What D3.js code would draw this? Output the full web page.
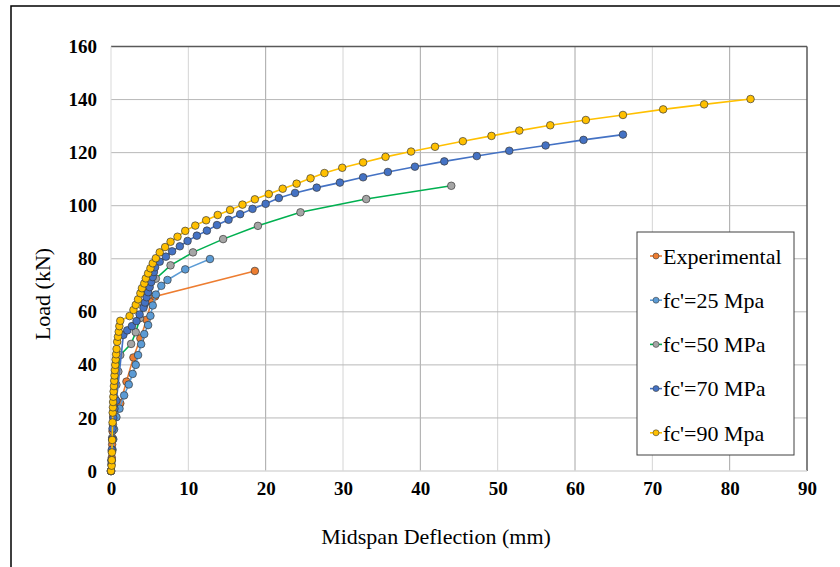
<!DOCTYPE html>
<html>
<head>
<meta charset="utf-8">
<script src="https://cdn.jsdelivr.net/npm/d3@7"></script>
<style>
  html, body { margin: 0; padding: 0; background: #fff; }
  svg { display: block; }
</style>
</head>
<body>
<div id="chart"></div>
<script>
// deflection (mm), load (kN) pairs
const experimental = [
  [0, 0], [0.1, 5], [0.15, 10], [0.2, 15], [0.3, 20.5], [1.2, 25.5], [2.0, 33.7],
  [2.9, 42.8], [3.8, 50], [4.6, 57], [5.2, 63.8], [5.7, 65.8], [18.6, 75.4]
];
const fc25 = [
  [0, 0], [0.1, 4], [0.2, 8], [0.3, 12], [0.4, 15.7], [0.7, 20.3], [1.1, 23.5],
  [1.7, 28.5], [2.3, 32.6], [2.8, 36.6], [3.2, 40], [3.5, 43.7], [3.9, 47.8],
  [4.3, 51.6], [4.8, 55], [5.1, 58.5], [5.4, 62.4], [5.8, 66.5], [6.5, 69.8],
  [7.3, 72], [9.6, 76], [12.8, 79.9]
];
const fc50 = [
  [0, 0], [0.05, 2.5], [0.1, 7.5], [0.15, 12.5], [0.25, 17.5], [0.35, 22.5],
  [0.5, 27.5], [0.7, 32.5], [0.95, 37.5], [1.2, 43.7], [2.6, 47.9], [3.2, 52.3],
  [3.75, 57.6], [4.3, 62.6], [4.8, 67.3], [5.8, 72.5], [7.7, 77.5], [10.6, 82.4],
  [14.5, 87.4], [19.0, 92.4], [24.5, 97.5], [33.0, 102.5], [44.0, 107.5]
];
const fc70 = [
  [0, 0], [0.05, 4], [0.1, 8], [0.15, 12], [0.2, 16], [0.3, 20], [0.45, 23.5],
  [0.7, 26.5], [1.6, 51.3], [2.1, 53], [2.7, 54.6], [3.3, 56.5], [3.7, 59],
  [4.2, 61.5], [4.4, 63.5], [4.6, 65.5], [4.8, 67.4], [5.0, 69.3], [5.2, 71.2],
  [5.4, 73.1], [5.55, 75], [5.7, 76.8], [6.3, 78.9], [7.1, 80.8], [7.9, 82.8],
  [8.9, 84.7], [9.9, 86.7], [11.1, 88.7], [12.4, 90.6], [13.7, 92.7], [15.2, 94.7],
  [16.7, 96.8], [18.3, 98.8], [20.0, 100.7], [21.7, 102.9], [23.8, 104.8],
  [26.6, 106.8], [29.6, 108.7], [32.6, 110.7], [35.8, 112.7], [39.3, 114.7],
  [43.1, 116.7], [47.3, 118.7], [51.5, 120.7], [56.2, 122.7], [61.1, 124.8],
  [66.2, 126.8]
];
const fc90 = [
  [0, 0], [0.08, 2], [0.1, 4.1], [0.12, 7], [0.15, 11.7], [0.2, 18.3], [0.22, 22],
  [0.25, 24], [0.27, 26], [0.3, 28], [0.34, 30], [0.38, 32], [0.42, 34], [0.46, 36],
  [0.5, 38], [0.55, 40], [0.6, 42], [0.66, 44], [0.72, 46], [0.8, 48.7],
  [0.9, 50.6], [1.0, 52.5], [1.08, 54.6], [1.2, 56.6], [2.4, 58.4], [2.9, 60.7],
  [3.2, 62.6], [3.5, 64.7], [3.8, 67], [4.0, 68.9], [4.3, 70.7], [4.5, 72.6],
  [4.8, 74.5], [5.1, 76.4], [5.4, 78.3], [5.8, 80.2], [6.3, 82.4], [7.0, 84.4],
  [7.7, 86.4], [8.6, 88.3], [9.6, 90.5], [10.9, 92.5], [12.3, 94.5], [13.8, 96.5],
  [15.4, 98.4], [17.0, 100.4], [18.6, 102.4], [20.4, 104.4], [22.2, 106.4],
  [24.0, 108.3], [25.8, 110.3], [27.6, 112.3], [29.9, 114.3], [32.6, 116.3],
  [35.5, 118.4], [38.8, 120.4], [41.9, 122.2], [45.5, 124.3], [49.2, 126.3],
  [52.8, 128.3], [56.8, 130.3], [61.4, 132.3], [66.2, 134.2], [71.4, 136.3],
  [76.7, 138.2], [82.7, 140.2]
];

const SERIES = [
  { name: "Experimental", data: experimental, line: "#ED7D31", fill: "#ED7D31" },
  { name: "fc'=25 Mpa",   data: fc25,         line: "#5B9BD5", fill: "#5B9BD5" },
  { name: "fc'=50 MPa",   data: fc50,         line: "#00B050", fill: "#A5A5A5" },
  { name: "fc'=70 MPa",   data: fc70,         line: "#4472C4", fill: "#4472C4" },
  { name: "fc'=90 Mpa",   data: fc90,         line: "#FFC000", fill: "#FFC000" },
];

const xTicks = [0, 10, 20, 30, 40, 50, 60, 70, 80, 90];
const yTicks = [0, 20, 40, 60, 80, 100, 120, 140, 160];

const W = 840, H = 567;
const PLOT = { left: 111, right: 807, top: 46.5, bottom: 471 };
const SERIF = "'Liberation Serif', 'Times New Roman', serif";

const svg = d3.select("#chart").append("svg")
  .attr("width", W)
  .attr("height", H);

svg.append("rect")
  .attr("width", W).attr("height", H)
  .attr("fill", "#fff");

// outer chart frame (cut off on right and bottom)
svg.append("rect")
  .attr("x", 11).attr("y", 6)
  .attr("width", W + 20).attr("height", H + 20)
  .attr("fill", "none")
  .attr("stroke", "#000")
  .attr("stroke-width", 1.5);

const x = d3.scaleLinear().domain([0, 90]).range([PLOT.left, PLOT.right]);
const y = d3.scaleLinear().domain([0, 160]).range([PLOT.bottom, PLOT.top]);

// gridlines
const grid = svg.append("g");
xTicks.filter(t => t > 0 && t < 90).forEach(t => {
  grid.append("line")
    .attr("x1", x(t)).attr("x2", x(t))
    .attr("y1", y(0)).attr("y2", y(160))
    .attr("stroke", t % 20 === 0 ? "#a6a6a6" : "#d4d4d4")
    .attr("stroke-width", 1);
});
yTicks.filter(t => t > 0 && t < 160).forEach(t => {
  grid.append("line")
    .attr("x1", x(0)).attr("x2", x(90))
    .attr("y1", y(t)).attr("y2", y(t))
    .attr("stroke", "#b8b8b8")
    .attr("stroke-width", 1);
});

// plot border: dark top/right, light axes on left/bottom
grid.append("line")
  .attr("x1", x(0)).attr("x2", x(90)).attr("y1", y(160)).attr("y2", y(160))
  .attr("stroke", "#595959").attr("stroke-width", 1.5);
grid.append("line")
  .attr("x1", x(90)).attr("x2", x(90)).attr("y1", y(0)).attr("y2", y(160))
  .attr("stroke", "#595959").attr("stroke-width", 1.5);
grid.append("line")
  .attr("x1", x(0)).attr("x2", x(90)).attr("y1", y(0)).attr("y2", y(0))
  .attr("stroke", "#d9d9d9").attr("stroke-width", 1.5);
grid.append("line")
  .attr("x1", x(0)).attr("x2", x(0)).attr("y1", y(0)).attr("y2", y(160))
  .attr("stroke", "#d9d9d9").attr("stroke-width", 1);

// axes (labels only)
const xAxis = svg.append("g")
  .attr("transform", `translate(0,${PLOT.bottom + 10})`)
  .call(d3.axisBottom(x).tickValues(xTicks).tickSize(0).tickPadding(0));
const yAxis = svg.append("g")
  .attr("transform", `translate(${PLOT.left - 14},0)`)
  .call(d3.axisLeft(y).tickValues(yTicks).tickSize(0).tickPadding(0));

[xAxis, yAxis].forEach(a => {
  a.attr("font-family", SERIF);
  a.select(".domain").remove();
  a.selectAll("text")
    .attr("font-family", SERIF)
    .attr("font-size", "19px")
    .attr("font-weight", "bold")
    .attr("fill", "#000");
});
xAxis.selectAll("text").attr("dy", "0.71em");

svg.append("text")
  .attr("transform", "translate(50,294) rotate(-90)")
  .attr("text-anchor", "middle")
  .attr("font-family", SERIF)
  .attr("font-size", "22px")
  .text("Load (kN)");

svg.append("text")
  .attr("x", 436)
  .attr("y", 544)
  .attr("text-anchor", "middle")
  .attr("font-family", SERIF)
  .attr("font-size", "22px")
  .text("Midspan Deflection (mm)");

// series
const line = d3.line().x(d => x(d[0])).y(d => y(d[1]));
const plotG = svg.append("g");

SERIES.forEach(s => {
  const g = plotG.append("g");
  g.append("path")
    .attr("d", line(s.data))
    .attr("fill", "none")
    .attr("stroke", s.line)
    .attr("stroke-width", 1.6);
  g.selectAll("circle")
    .data(s.data)
    .join("circle")
    .attr("cx", d => x(d[0]))
    .attr("cy", d => y(d[1]))
    .attr("r", 3.8)
    .attr("fill", s.fill)
    .attr("stroke", "#3a3a3a")
    .attr("stroke-width", 0.7);
});

// legend
const legend = svg.append("g");
legend.append("rect")
  .attr("x", 637).attr("y", 232)
  .attr("width", 157).attr("height", 223)
  .attr("fill", "#fff")
  .attr("stroke", "#404040")
  .attr("stroke-width", 1);

SERIES.forEach((s, i) => {
  const ly = 256 + i * 44.2;
  legend.append("line")
    .attr("x1", 650).attr("x2", 662)
    .attr("y1", ly).attr("y2", ly)
    .attr("stroke", s.line).attr("stroke-width", 1.6);
  legend.append("circle")
    .attr("cx", 656).attr("cy", ly).attr("r", 3)
    .attr("fill", s.fill)
    .attr("stroke", "#3a3a3a").attr("stroke-width", 0.6);
  legend.append("text")
    .attr("x", 663)
    .attr("y", ly)
    .attr("dy", "0.35em")
    .attr("font-family", SERIF)
    .attr("font-size", "22px")
    .attr("fill", "#000")
    .text(s.name);
});
</script>
</body>
</html>
